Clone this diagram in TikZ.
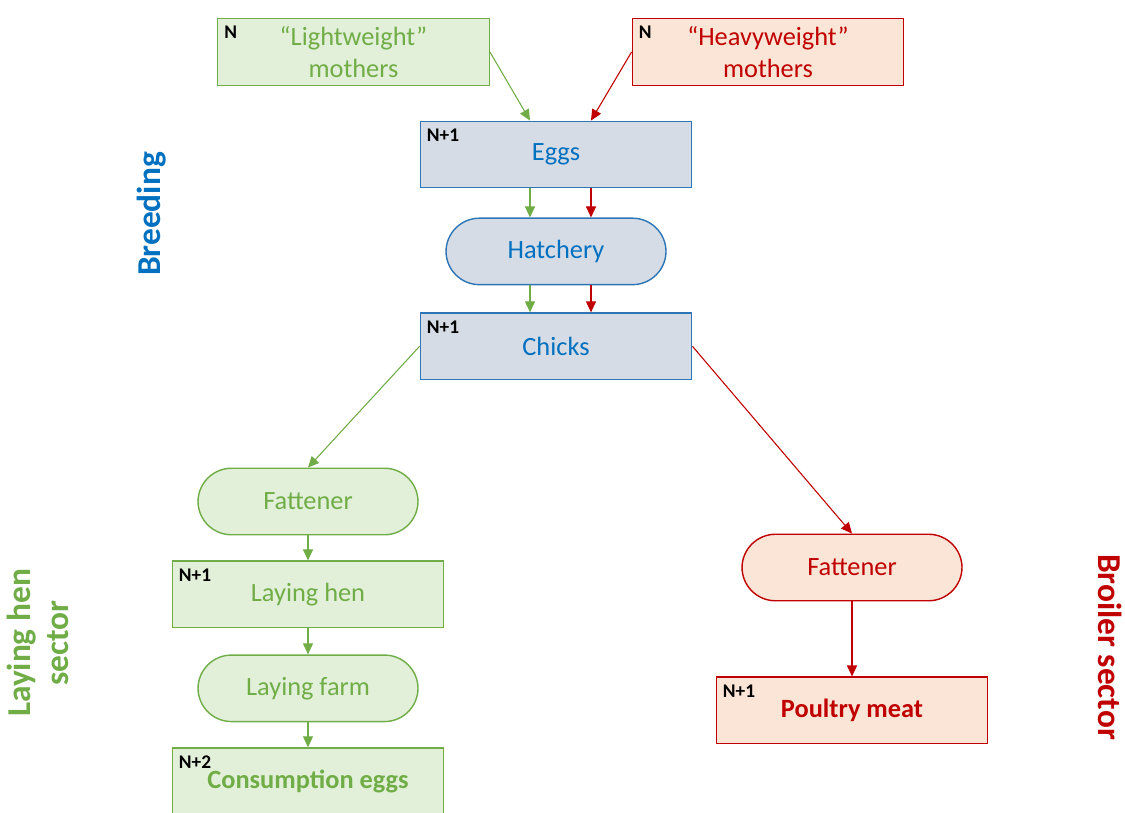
\documentclass[tikz,border=0pt]{standalone}
\usepackage{fontspec}
\setmainfont{Carlito}
\usetikzlibrary{arrows.meta, positioning, calc}
\definecolor{lgreen}{HTML}{70AD47}
\definecolor{lgreenfill}{HTML}{E2F0D9}
\definecolor{dred}{HTML}{C00000}
\definecolor{dredfill}{HTML}{FBE5D6}
\definecolor{bblue}{HTML}{0070C0}
\definecolor{bbluedraw}{HTML}{2E75B6}
\definecolor{bbluefill}{HTML}{D6DCE5}
\tikzset{
    stage/.style={rectangle, draw, line width=0.8pt, minimum width=5.43cm,
                  minimum height=1.33cm, align=center, font=\fontsize{15}{18}\selectfont},
    process/.style={rectangle, rounded corners=0.67cm, draw, line width=0.8pt,
                    minimum width=4.4cm, minimum height=1.33cm, align=center,
                    font=\fontsize{15}{18}\selectfont},
    lightcol/.style={draw=lgreen, fill=lgreenfill, text=lgreen},
    heavycol/.style={draw=dred, fill=dredfill, text=dred},
    breedcol/.style={draw=bbluedraw, fill=bbluefill, text=bblue},
    tag/.style={anchor=north west, font=\fontsize{11}{13}\selectfont\bfseries,
                text=black, inner sep=0pt, xshift=4pt, yshift=-4.5pt},
    greenflow/.style={-{Triangle[length=2.2mm, width=2mm]}, draw=lgreen, fill=lgreen, line width=0.6pt},
    redflow/.style={-{Triangle[length=2.2mm, width=2mm]}, draw=dred, fill=dred, line width=0.6pt},
    sector/.style={font=\fontsize{19}{22}\selectfont\bfseries, align=center},
}
\begin{document}
\begin{tikzpicture}
    \useasboundingbox (0,0) rectangle (22.5,-16.24);

    % parent stock
    \node[stage, lightcol, label={[tag]north west:N}] (light) at (7.07,-1.04)
        {“Lightweight”\\mothers};
    \node[stage, heavycol, label={[tag]north west:N}] (heavy) at (15.36,-1.04)
        {“Heavyweight”\\mothers};

    % breeding
    \node[stage, breedcol, label={[tag]north west:N+1}] (eggs) at (11.12,-3.09) {Eggs};
    \node[process, breedcol, below=0.58cm of eggs] (hatchery) {Hatchery};
    \node[stage, breedcol, label={[tag]north west:N+1}, below=0.54cm of hatchery] (chicks) {Chicks};

    % laying hen sector
    \node[process, lightcol] (fatl) at (6.16,-10.03) {Fattener};
    \node[stage, lightcol, label={[tag]north west:N+1}, below=0.5cm of fatl] (layhen) {Laying hen};
    \node[process, lightcol, below=0.52cm of layhen] (layfarm) {Laying farm};
    \node[stage, lightcol, label={[tag]north west:N+2}, below=0.5cm of layfarm] (conseggs)
        {\textbf{Consumption eggs}};

    % broiler sector
    \node[process, heavycol] (fatr) at (17.04,-11.35) {Fattener};
    \node[stage, heavycol, label={[tag]north west:N+1}, below=1.5cm of fatr] (meat)
        {\textbf{Poultry meat}};

    % sector titles
    \node[sector, text=bblue, rotate=90] (breeding) at (3.04,-4.28) {Breeding};
    \node[sector, text=lgreen, rotate=90] (layersec) at (0.76,-12.86) {Laying hen\\sector};
    \node[sector, text=dred, rotate=-90] (broilsec) at (22.2,-12.94) {Broiler sector};

    % flows
    \draw[greenflow] (light.east) -- ($(eggs.north)+(-0.52,0)$);
    \draw[redflow] (heavy.west) -- ($(eggs.north)+(0.7,0)$);
    \draw[greenflow] ($(eggs.south)+(-0.52,0)$) -- ($(hatchery.north)+(-0.52,0)$);
    \draw[redflow] ($(eggs.south)+(0.7,0)$) -- ($(hatchery.north)+(0.7,0)$);
    \draw[greenflow] ($(hatchery.south)+(-0.52,0)$) -- ($(chicks.north)+(-0.52,0)$);
    \draw[redflow] ($(hatchery.south)+(0.7,0)$) -- ($(chicks.north)+(0.7,0)$);
    \draw[greenflow] (chicks.west) -- (fatl.north);
    \draw[redflow] (chicks.east) -- (fatr.north);
    \draw[greenflow] (fatl) -- (layhen);
    \draw[greenflow] (layhen) -- (layfarm);
    \draw[greenflow] (layfarm) -- (conseggs);
    \draw[redflow] (fatr) -- (meat);

\end{tikzpicture}
\end{document}
